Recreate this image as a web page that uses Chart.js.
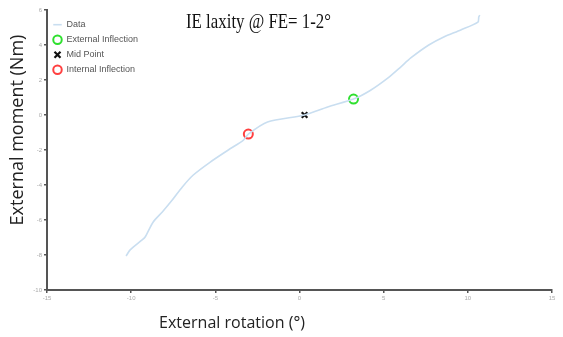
<!DOCTYPE html>
<html>
<head>
<meta charset="utf-8">
<script src="https://cdn.jsdelivr.net/npm/chart.js@4"></script>
<style>
  html, body { margin: 0; padding: 0; background: #fff; }
  #wrap { width: 563px; height: 337px; position: relative; }
</style>
</head>
<body>
<div id="wrap"><canvas id="chart"></canvas></div>
<script>
// curve (external rotation deg, external moment Nm)
const rotation = [-10.3, -10.06, -9.35, -9.17, -8.69, -8.15, -7.56, -6.96, -6.31, -5.3, -4.23, -3.33, -3.04,
  -1.9, 0.3, 1.67, 3.21, 4.2, 5.3, 6.01, 6.61, 7.68, 8.57, 9.58, 10.6, 10.65, 10.71];
const moment = [-8.06, -7.71, -7.14, -6.97, -6.11, -5.54, -4.86, -4.11, -3.43, -2.69, -2.0, -1.43, -1.09,
  -0.4, 0.0, 0.46, 0.91, 1.4, 2.15, 2.74, 3.26, 4.0, 4.46, 4.86, 5.31, 5.6, 5.71];

const externalInflection = [3.21, 0.91];
const midPoint = [0.3, 0.0];
const internalInflection = [-3.04, -1.09];

const xTicks = [-15, -10, -5, 0, 5, 10, 15];
const yTicks = [-10, -8, -6, -4, -2, 0, 2, 4, 6];

const chartTitle = 'IE laxity @ FE= 1-2°';
const xTitle = 'External rotation (°)';
const yTitle = 'External moment (Nm)';

const curve = rotation.map((x, i) => ({ x: x, y: moment[i] }));
const axisColor = '#555';

// titles are placed by hand, the original is not centred on the plot
const titlesPlugin = {
  id: 'titles',
  afterDraw(chart) {
    const ctx = chart.ctx;
    ctx.save();
    ctx.fillStyle = '#111';
    ctx.font = '22px "Liberation Serif", "Times New Roman", serif';
    ctx.textAlign = 'left';
    ctx.textBaseline = 'alphabetic';
    ctx.fillText(chartTitle, 186, 28, 145);

    ctx.fillStyle = '#222';
    ctx.font = '17px "Open Sans", sans-serif';
    ctx.textAlign = 'center';
    ctx.fillText(xTitle, 232, 328, 146);

    ctx.font = '18px "Open Sans", sans-serif';
    ctx.translate(23, 130);
    ctx.rotate(-Math.PI / 2);
    ctx.fillText(yTitle, 0, 0, 195);
    ctx.restore();
  }
};

new Chart(document.getElementById('chart'), {
  type: 'scatter',
  data: {
    datasets: [
      {
        label: 'Data',
        data: curve,
        showLine: true,
        borderColor: '#c9def0',
        backgroundColor: '#c9def0',
        borderWidth: 1.6,
        pointRadius: 0,
        pointStyle: 'line',
        tension: 0.25
      },
      {
        label: 'External Inflection',
        data: [{ x: externalInflection[0], y: externalInflection[1] }],
        pointStyle: 'circle',
        pointRadius: 4.5,
        borderWidth: 2,
        borderColor: '#2ee02e',
        backgroundColor: '#fff'
      },
      {
        label: 'Mid Point',
        data: [{ x: midPoint[0], y: midPoint[1] }],
        pointStyle: 'crossRot',
        pointRadius: 4,
        borderWidth: 2.2,
        borderColor: '#111',
        backgroundColor: '#111'
      },
      {
        label: 'Internal Inflection',
        data: [{ x: internalInflection[0], y: internalInflection[1] }],
        pointStyle: 'circle',
        pointRadius: 4.5,
        borderWidth: 2,
        borderColor: '#ff4040',
        backgroundColor: '#fff'
      }
    ]
  },
  options: {
    responsive: true,
    maintainAspectRatio: false,
    animation: false,
    layout: { padding: { top: 10, right: 11, left: 0, bottom: 0 } },
    plugins: {
      title: { display: false },
      tooltip: { enabled: false },
      legend: {
        position: 'chartArea',
        align: 'start',
        // empty title only pushes the entries down a little
        title: { display: true, text: ' ', font: { size: 6 }, padding: { top: 4, bottom: 3 } },
        labels: {
          usePointStyle: true,
          boxHeight: 6,
          padding: 6,
          color: '#555',
          font: { family: 'Arial, "Liberation Sans", sans-serif', size: 9 }
        }
      }
    },
    scales: {
      x: {
        type: 'linear',
        min: -15,
        max: 15,
        afterBuildTicks: (scale) => { scale.ticks = xTicks.map(v => ({ value: v })); },
        afterFit: (scale) => { scale.height = 47; },
        border: { color: axisColor, width: 2 },
        grid: { drawOnChartArea: false, tickLength: 3, color: axisColor, lineWidth: 1.5 },
        ticks: { color: '#aaa', font: { size: 6 }, padding: 2, maxRotation: 0 }
      },
      y: {
        type: 'linear',
        min: -10,
        max: 6,
        afterBuildTicks: (scale) => { scale.ticks = yTicks.map(v => ({ value: v })); },
        afterFit: (scale) => { scale.width = 47; },
        border: { color: axisColor, width: 2 },
        grid: { drawOnChartArea: false, tickLength: 3, color: axisColor, lineWidth: 1.5 },
        ticks: { color: '#aaa', font: { size: 6 }, padding: 2 }
      }
    }
  },
  plugins: [titlesPlugin]
});
</script>
</body>
</html>
